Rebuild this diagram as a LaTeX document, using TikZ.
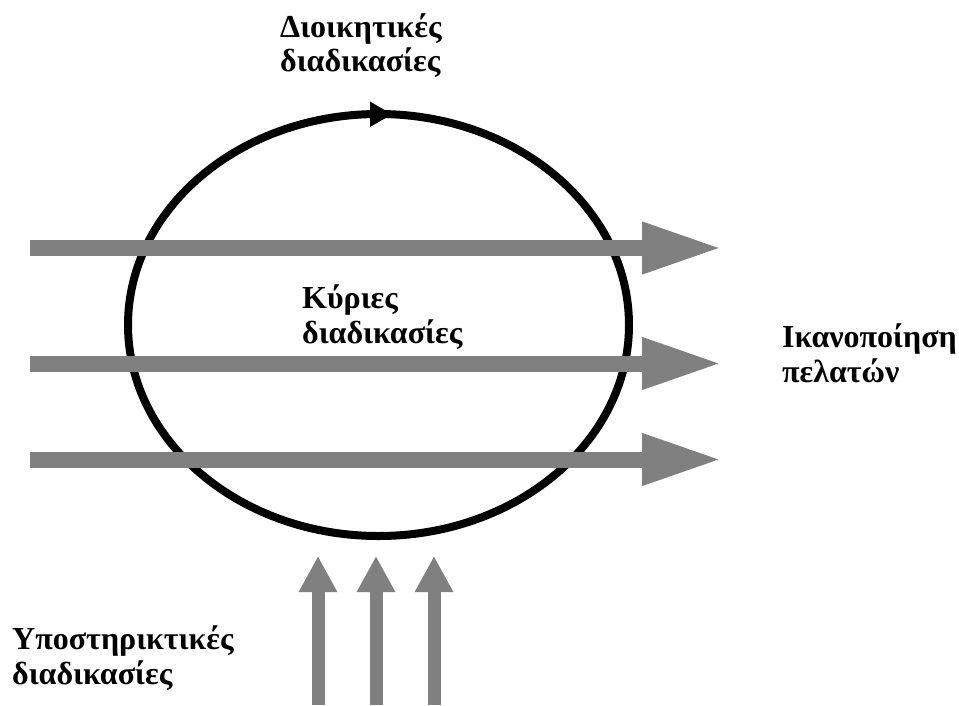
\documentclass[tikz,border=0pt]{standalone}
\usepackage{fontspec}
\setmainfont{Liberation Serif}
\usetikzlibrary{arrows.meta}

\definecolor{flowgray}{RGB}{128,128,128}

\tikzset{
  % anchored on the baseline of the last line
  label text/.style={anchor=base west, align=left, inner sep=0pt,
    font=\fontsize{32}{34.5}\selectfont\bfseries},
  main flow/.style={draw=flowgray, line width=16pt,
    -{Triangle[length=80pt, width=48pt, fill=flowgray]}},
  support flow/.style={draw=flowgray, line width=13pt,
    -{Triangle[length=36pt, width=36pt, fill=flowgray]}},
  cycle ring/.style={draw=black, line width=8pt},
}

\begin{document}
\begin{tikzpicture}[x=1pt, y=-1pt]
  \useasboundingbox (0,0) rectangle (959,705);

  % management cycle around the core processes
  \draw[cycle ring] (378.5,325) ellipse [x radius=250.5pt, y radius=211pt];
  \fill[black] (392,114.3) -- (370,101.5) -- (370,127) -- cycle;

  % core process flows, left to right
  \coordinate (m1s) at (30,248);   \coordinate (m1e) at (722,248);
  \coordinate (m2s) at (30,363.5); \coordinate (m2e) at (722,363.5);
  \coordinate (m3s) at (30,459.5); \coordinate (m3e) at (722,459.5);
  \draw[main flow] (m1s) -- (m1e);
  \draw[main flow] (m2s) -- (m2e);
  \draw[main flow] (m3s) -- (m3e);

  % support process flows, bottom to top
  \coordinate (s1s) at (318,705); \coordinate (s1e) at (318,556);
  \coordinate (s2s) at (376,705); \coordinate (s2e) at (376,556);
  \coordinate (s3s) at (434,705); \coordinate (s3e) at (434,556);
  \draw[support flow] (s1s) -- (s1e);
  \draw[support flow] (s2s) -- (s2e);
  \draw[support flow] (s3s) -- (s3e);

  % labels
  \node[label text] (mgmt) at (280,71.5) {Διοικητικές\\διαδικασίες};
  \node[label text] (core) at (302,343) {Κύριες\\διαδικασίες};
  \node[label text] (cust) at (782,382) {Ικανοποίηση\\πελατών};
  \node[label text] (supp) at (12,684) {Υποστηρικτικές\\διαδικασίες};
\end{tikzpicture}
\end{document}
